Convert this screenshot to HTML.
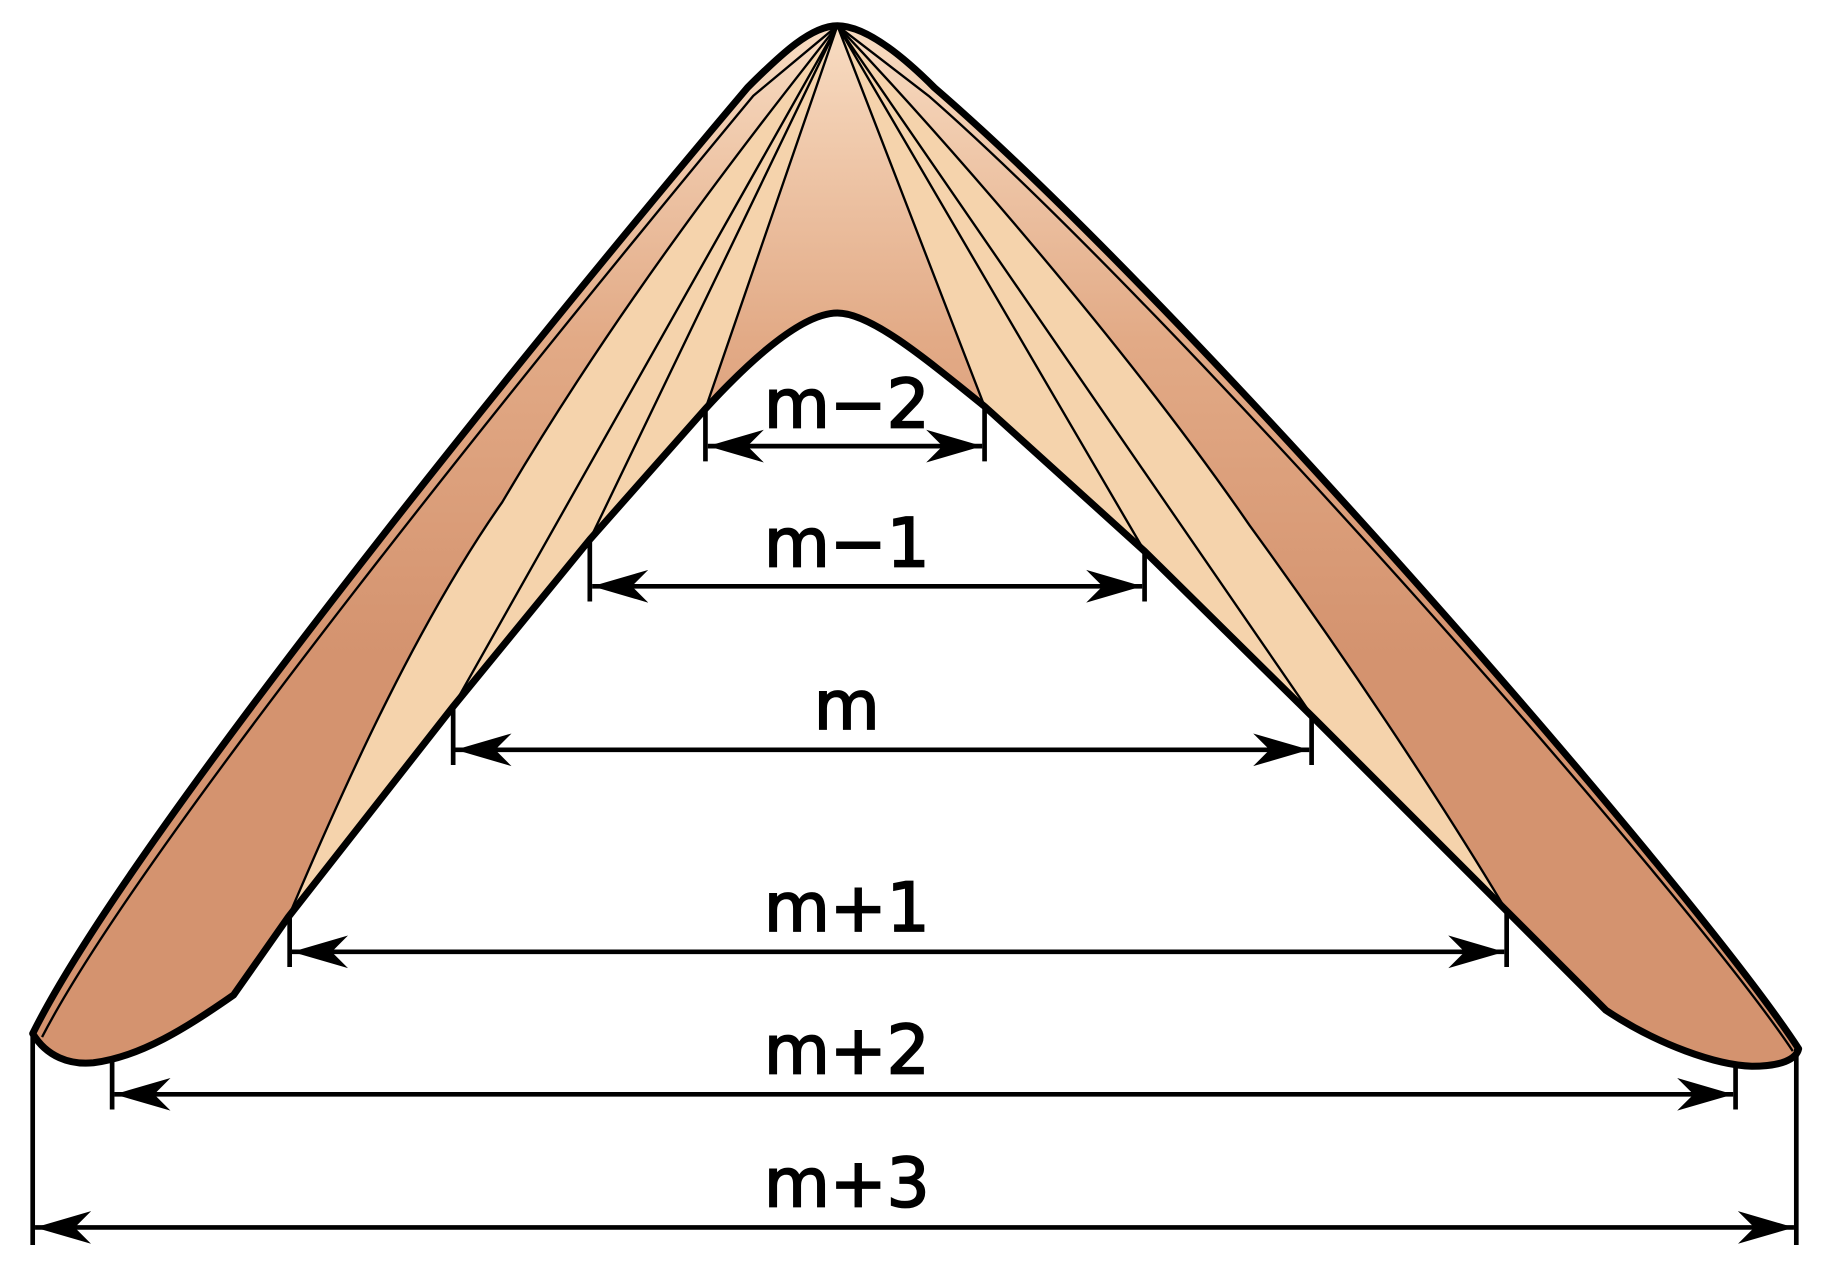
<!DOCTYPE html>
<html><head><meta charset="utf-8"><style>
html,body{margin:0;padding:0;background:#fff;}
svg{display:block;}
text{font-family:"DejaVu Sans","Liberation Sans",sans-serif;font-size:58px;fill:#000;stroke:#000;stroke-width:1.6px;text-anchor:middle;}
</style></head><body>
<svg width="1822" height="1266" viewBox="0 0 1560 1084" preserveAspectRatio="none" xmlns="http://www.w3.org/2000/svg">
<defs>
<linearGradient id="g" x1="0" y1="22" x2="0" y2="560" gradientUnits="userSpaceOnUse">
<stop offset="0" stop-color="#f8dcc2"/>
<stop offset="0.5" stop-color="#e2aa86"/>
<stop offset="1" stop-color="#d4936f"/>
</linearGradient>
<marker id="a" viewBox="0 0 50 30" refX="48" refY="15" markerWidth="50" markerHeight="30" markerUnits="userSpaceOnUse" orient="auto-start-reverse">
<path d="M48,15 L0,1 L14,15 L0,29 Z" fill="#000"/>
</marker>
<path id="outline" d="M717,22 C695,22 670,45 640,75 C450,300 110,720 28,885 C40,905 60,912 80,910 C120,905 160,880 200,852 L247,785 L388,605 L505,462 L604,350 C650,300 690,268 717,268 C745,268 790,305 843,348 L980,472 L1125,615 L1290,780 L1375,865 C1420,895 1470,912 1500,913 C1525,913 1538,907 1540,898 C1450,760 1020,265 800,75 C770,45 740,22 717,22 Z"/>
</defs>
<use href="#outline" fill="url(#g)"/>
<path d="M717,22 L604,350 L505,462 L388,605 L247,785 C300,660 360,530 430,430 C530,260 640,120 717,22 Z" fill="#f5d3ac"/>
<path d="M717,22 L843,348 L980,472 L1125,615 L1290,780 C1230,680 1150,560 1070,450 C960,290 800,110 717,22 Z" fill="#f5d3ac"/>
<g stroke="#000" stroke-width="2" fill="none" stroke-linejoin="round">
<path d="M717,22 L604,350 M717,22 L505,462 M717,22 L388,605"/>
<path d="M717,22 L843,348 M717,22 L980,472 M717,22 L1125,615"/>
<path d="M717,22 C640,120 530,260 430,430 C360,530 300,660 247,785"/>
<path d="M717,22 C800,110 960,290 1070,450 C1150,560 1230,680 1290,780"/>
<path d="M717,22 L645,82 C460,305 120,725 36,888"/>
<path d="M717,22 L795,82 C1012,272 1445,765 1535,900"/>
</g>
<use href="#outline" fill="none" stroke="#000" stroke-width="6" stroke-linejoin="round"/>
<g stroke="#000" stroke-width="4" fill="none">
<path d="M604,350 V395 M843,348 V395"/>
<path d="M505,462 V515 M980,472 V515"/>
<path d="M388,605 V655 M1123,615 V655"/>
<path d="M248,785 V828 M1290,780 V828"/>
<path d="M96,905 V950 M1486,913 V950"/>
<path d="M28,885 V1066 M1538,898 V1066"/>
</g>
<g stroke="#000" stroke-width="4" fill="none" marker-start="url(#a)" marker-end="url(#a)">
<line x1="606" y1="382" x2="841" y2="382"/>
<line x1="507" y1="502" x2="978" y2="502"/>
<line x1="390" y1="642" x2="1121" y2="642"/>
<line x1="250" y1="815" x2="1288" y2="815"/>
<line x1="98" y1="937" x2="1484" y2="937"/>
<line x1="30" y1="1051" x2="1536" y2="1051"/>
</g>
<text x="725" y="366">m−2</text>
<text x="725" y="485">m−1</text>
<text x="725" y="624">m</text>
<text x="725" y="797">m+1</text>
<text x="725" y="919">m+2</text>
<text x="725" y="1033">m+3</text>
</svg>
</body></html>
